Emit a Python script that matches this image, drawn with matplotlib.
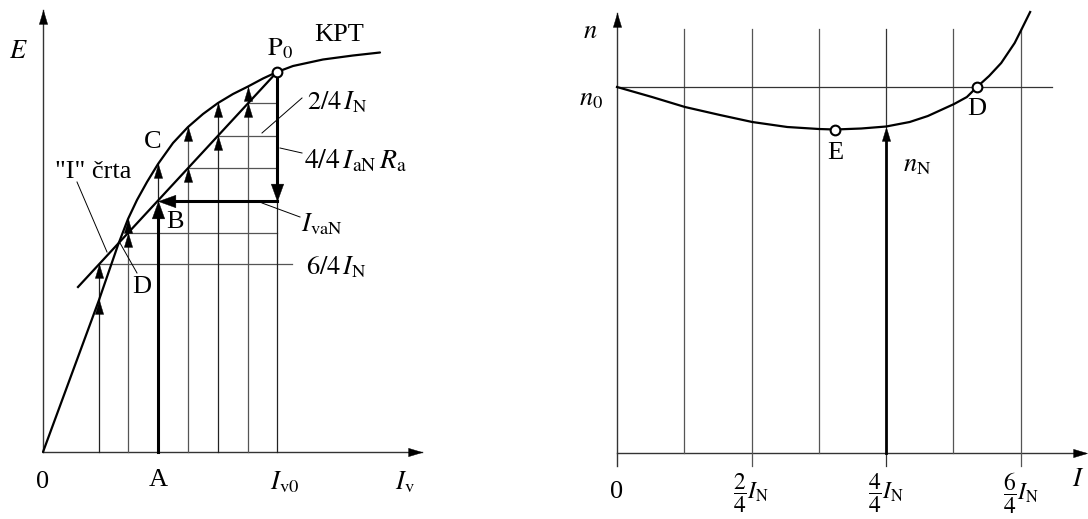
import numpy as np
import matplotlib
matplotlib.use("Agg")
from matplotlib import pyplot as plt
from matplotlib.path import Path

plt.rcParams["font.family"] = ["Liberation Serif", "DejaVu Serif"]
plt.rcParams["mathtext.fontset"] = "stix"

FS = 19
THIN = "#555555"

# left diagram: E over I_v (units counted from the axes corner)
grid_x = [56, 85, 115, 145, 175, 205, 234]   # grid_x[2] is A, grid_x[-1] is I_v0
k_A = 2
i_line_x = [35, 234]                          # the "I" line, ends in P0
i_line_y = [165, 380]
kpt_x = [0, 56, 75, 85, 94, 104, 115, 130, 145, 160, 175, 190, 205, 220, 234,
         250, 280, 310, 337]
kpt_y = [0, 152, 207, 233, 252, 270, 288, 309, 325, 338, 349, 358, 365.5, 373.5, 380,
         386, 392.5, 396.5, 399.5]
x_axis_len = 379
y_axis_len = 442

# right diagram: n over I (x in quarters of I_N)
n_grid = [1, 2, 3, 4, 5, 6]
n_ticks = [2, 4, 6]
n_tick_labels = [r"$\dfrac{2}{4}I_{\rm N}$", r"$\dfrac{4}{4}I_{\rm N}$",
                 r"$\dfrac{6}{4}I_{\rm N}$"]
n_x = [0, 0.52, 1.01, 1.53, 2.01, 2.53, 3.0, 3.24, 3.63, 4.0, 4.35, 4.62, 5.01,
       5.2, 5.35, 5.53, 5.71, 5.91, 6.0, 6.14]
n_y = [366, 356, 346, 338, 331, 326, 324, 323.5, 324.5, 326.5, 331, 337, 349,
       356, 366, 377, 390, 410, 422, 441]
n0 = 366
point_E = (3.24, 323.5)
point_D = (5.35, 366)
k_N = 4


def head(direction, w=0.29):
    """Triangle marker with its tip on the data point."""
    shapes = {
        "up": [(0, 0), (-w, -1), (w, -1), (0, 0)],
        "down": [(0, 0), (-w, 1), (w, 1), (0, 0)],
        "left": [(0, 0), (1, -w), (1, w), (0, 0)],
        "right": [(0, 0), (-1, -w), (-1, w), (0, 0)],
    }
    return Path(shapes[direction], closed=True)


def tip(ax, x, y, direction, big=False):
    ms = 25 if big else 20
    w = 0.36 if big else 0.3
    ax.plot([x], [y], ls="none", marker=head(direction, w), ms=ms,
            mfc="black", mec="black", mew=0.3, zorder=5, clip_on=False)


fig = plt.figure(figsize=(10.88, 5.19), dpi=100)

# ---------------- left: E(I_v) ----------------
ax = fig.add_axes([0, 0, 0.5, 1])
ax.set_xlim(-43, 501)
ax.set_ylim(-67, 452)
ax.axis("off")

i_at = np.interp(grid_x, i_line_x, i_line_y)
kpt_at = np.interp(grid_x, kpt_x, kpt_y)

# axes
ax.plot([0, 0], [0, y_axis_len], color="#333333", lw=1)
ax.plot([0, x_axis_len], [0, 0], color="#333333", lw=1)
tip(ax, 0, y_axis_len, "up")
tip(ax, x_axis_len, 0, "right")

# grid of construction lines
x_end = grid_x[-1]
for k in range(len(grid_x) - 1):
    if k == k_A:
        continue
    right = x_end + 15 if k == 0 else x_end
    ax.plot([grid_x[k], right], [i_at[k], i_at[k]], color=THIN, lw=0.9)
for k, x in enumerate(grid_x):
    top = max(i_at[k], kpt_at[k])
    ax.plot([x, x], [0, top], color=THIN if k % 2 else "#222222", lw=0.9)

# curves
ax.plot(kpt_x, kpt_y, color="black", lw=1.6, solid_capstyle="round",
        solid_joinstyle="round")
ax.plot(i_line_x, i_line_y, color="black", lw=1.6)

# thick arrows: P0 -> down, -> left to B, A -> up to B
b_y = i_at[k_A]
ax.plot([x_end, x_end], [i_line_y[-1], b_y + 10], color="black", lw=2.2)
ax.plot([x_end, grid_x[k_A] + 10], [b_y, b_y], color="black", lw=2.2)
ax.plot([grid_x[k_A], grid_x[k_A]], [0, b_y - 8], color="black", lw=2.2)
tip(ax, x_end, b_y, "down", big=True)
tip(ax, grid_x[k_A], b_y, "left", big=True)
tip(ax, grid_x[k_A], b_y, "up", big=True)

for k in range(len(grid_x) - 1):
    tip(ax, grid_x[k], kpt_at[k], "up")
    if k != k_A:
        tip(ax, grid_x[k], i_at[k], "up")

ax.plot([x_end], [i_line_y[-1]], ls="none", marker="o", ms=7, mfc="white",
        mec="black", mew=1.5, zorder=6)

# leader lines
for (x0, y0), (x1, y1) in [((219, 319), (259, 354)), ((237, 304), (259, 299)),
                           ((219, 249), (257, 235)), ((34, 270), (64, 200)),
                           ((77, 209), (94, 179))]:
    ax.plot([x0, x1], [y0, y1], color="black", lw=0.7)

ax.text(-25, 400, r"$E$", fontsize=FS, ha="center", va="center")
ax.text(296, 417, "KPT", fontsize=FS, ha="center", va="center")
ax.text(237, 403, r"$\rm P_0$", fontsize=FS, ha="center", va="center")
ax.text(264, 350, r"$2/4\,I_{\rm N}$", fontsize=FS, ha="left", va="center")
ax.text(261, 291, r"$4/4\,I_{\rm aN}\,R_{\rm a}$", fontsize=FS + 1, ha="left",
        va="center")
ax.text(258, 228, r"$I_{\rm vaN}$", fontsize=FS, ha="left", va="center")
ax.text(263, 185, r"$6/4\,I_{\rm N}$", fontsize=FS, ha="left", va="center")
ax.text(110, 310, "C", fontsize=FS, ha="center", va="center")
ax.text(50, 280, "\"I\" črta", fontsize=FS, ha="center", va="center")
ax.text(132, 230, "B", fontsize=FS, ha="center", va="center")
ax.text(99, 165, "D", fontsize=FS, ha="center", va="center")
ax.text(0, -30, "0", fontsize=FS, ha="center", va="center")
ax.text(grid_x[k_A], -28, "A", fontsize=FS, ha="center", va="center")
ax.text(x_end + 8, -30, r"$I_{\rm v0}$", fontsize=FS, ha="center", va="center")
ax.text(362, -30, r"$I_{\rm v}$", fontsize=FS, ha="center", va="center")

# ---------------- right: n(I) ----------------
bx = fig.add_axes([0.5, 0, 0.5, 1])
bx.set_xlim(-1.085, 7.0)
bx.set_ylim(-66, 453)
bx.axis("off")

bx.plot([0, 0], [-13, 440], color="#333333", lw=1)
bx.plot([0, 6.95], [0, 0], color="#333333", lw=1)
tip(bx, 0, 440, "up")
tip(bx, 6.98, 0, "right")

n_N = n_y[n_x.index(4.0)]
for q in n_grid:
    bottom = -13 if q in n_ticks else 0
    if q == k_N:
        bx.plot([q, q], [bottom, 0], color="#333333", lw=0.9)
        bx.plot([q, q], [n_N, 424], color="#333333", lw=0.9)
    else:
        bx.plot([q, q], [bottom, 424], color=THIN, lw=0.9)
bx.plot([0, 6.46], [n0, n0], color="#333333", lw=0.9)

bx.plot(n_x, n_y, color="black", lw=1.6, solid_joinstyle="round")
bx.plot([k_N, k_N], [0, n_N - 10], color="black", lw=2.0)
tip(bx, k_N, n_N, "up")
bx.plot([point_E[0], point_D[0]], [point_E[1], point_D[1]], ls="none", marker="o",
        ms=7, mfc="white", mec="black", mew=1.5, zorder=6)

bx.text(-0.40, 421, r"$n$", fontsize=FS, ha="center", va="center")
bx.text(-0.39, 353, r"$n_0$", fontsize=FS, ha="center", va="center")
bx.text(point_E[0], 300, "E", fontsize=FS, ha="center", va="center")
bx.text(point_D[0], 344, "D", fontsize=FS, ha="center", va="center")
bx.text(4.46, 287, r"$n_{\rm N}$", fontsize=FS, ha="center", va="center")
bx.text(0, -39, "0", fontsize=FS, ha="center", va="center")
for q, lab in zip(n_ticks, n_tick_labels):
    bx.text(q, -40, lab, fontsize=FS - 2, ha="center", va="center")
bx.text(6.85, -27, r"$I$", fontsize=FS, ha="center", va="center")

fig.savefig("out.png", dpi=100)
